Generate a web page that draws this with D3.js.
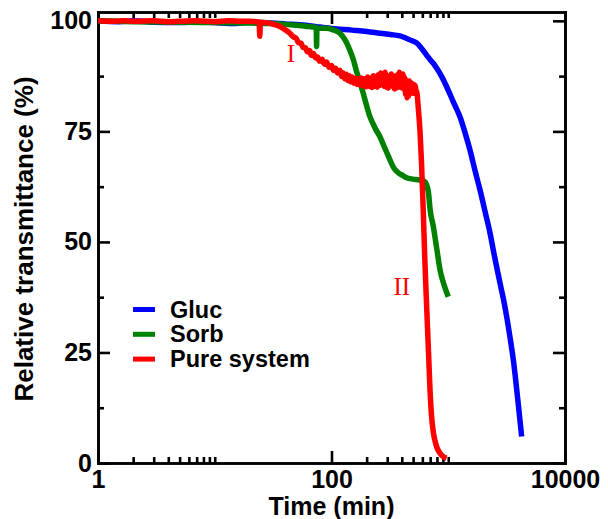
<!DOCTYPE html>
<html>
<head>
<meta charset="utf-8">
<title>Relative transmittance vs time</title>
<script src="https://cdn.jsdelivr.net/npm/d3@7"></script>
<style>
  body { margin: 0; background: #fff; }
  text { font-family: "Liberation Sans", Arial, sans-serif; font-weight: bold; fill: #000; }
  .axis path, .axis line { stroke: #000; stroke-width: 2.6; }
  .axis text { font-size: 25px; }
  .curve { fill: none; stroke-width: 5.5; stroke-linejoin: round; stroke-linecap: butt; }
  .note { font-family: "Liberation Serif", "Times New Roman", serif; font-weight: normal; font-size: 25px; fill: #f00; }
</style>
</head>
<body>
<script>
// series data: [time (min), relative transmittance (%)]
var gluc = [
  [1,100],[1.5,99.8],[2,100],[3,99.7],[5,99.6],[7,99.8],[10,99.6],[15,99.4],[20,99.7],
  [30,99.5],[40,99.3],[60,99.0],[80,98.6],[100,98.3],[150,97.9],[200,97.6],[260,97.2],
  [320,96.9],[386,96.6],[440,96.0],[490,95.5],[536,95.0],[590,93.8],[650,92.3],[700,91.2],
  [745,90.4],[800,89.2],[870,87.6],[969,85.1],[1100,81.8],[1260,78.3],[1400,74.5],
  [1535,70.8],[1700,66.0],[1870,61.8],[2070,56.8],[2280,52.0],[2500,46.5],[2775,40.7],
  [3000,36.5],[3165,33.1],[3400,28.0],[3610,23.3],[3900,15.5],[4255,6.0]
];
var sorb = [
  [1,100],[2,99.8],[5,99.7],[10,99.6],[20,99.5],[30,99.4],[40,99.2],[50,99.0],[60,98.8],
  [74,98.5],[74.5,94.2],[75,98.4],[90,98.3],[100,98.1],[110,97.7],[118,97.2],[126,96.3],
  [135,95.0],[144,93.3],[154,91.2],[161,89.3],[169,87.4],[178,85.5],[187,83.6],[200,80.8],
  [213,78.4],[225,76.9],[240,75.4],[260,73.8],[280,71.8],[300,70.0],[320,68.3],[337,67.0],
  [360,66.0],[380,65.5],[410,65.0],[440,64.5],[500,64.2],[573,64.0],[630,63.6],[675,61.4],
  [700,57.2],[745,53.5],[800,48.2],[850,43.7],[910,40.7],[1000,37.6]
];
var pure = [
  [1,100],[1.3,99.9],[1.7,100],[2,99.9],[3,100],[4,99.8],[5,99.9],[7,100],[10,99.8],
  [13,100],[17,99.9],[20,99.9],[24,99.7],[24.3,96.5],[24.6,99.7],[28,99.6],[32,99.2],
  [36,98.7],[40,98.0],[44,97.2],[47,96.4],[50,96.0],[52,95.1],[55,94.9],[57,94.0],
  [60,93.9],[62,93.0],[65,93.3],[67,92.2],[70,92.6],[73,91.6],[76,91.8],[79,90.9],
  [83,91.3],[87,90.2],[91,90.7],[95,89.5],[100,89.9],[104,88.8],[108,89.3],[113,88.2],
  [118,88.8],[122,87.4],[126,88.2],[130,86.9],[134,87.9],[138,86.5],[142,87.6],[146,86.2],
  [150,87.3],[155,85.9],[160,87.0],[165,85.6],[170,86.9],[175,85.5],[180,87.1],[186,85.3],
  [192,86.9],[198,85.1],[204,87.3],[210,85.2],[216,87.0],[222,84.9],[228,87.6],[234,85.2],
  [240,87.4],[246,85.0],[252,87.8],[258,85.4],[264,88.2],[270,85.6],[276,87.8],[282,85.2],
  [288,88.4],[294,85.0],[300,87.6],[306,84.8],[312,87.2],[318,85.4],[325,88.0],[332,85.2],
  [339,87.6],[346,84.6],[353,87.0],[360,84.8],[367,87.8],[374,85.4],[381,88.4],[388,85.0],
  [395,87.6],[402,84.8],[409,88.0],[416,85.2],[423,87.2],[430,83.4],[437,86.6],[444,82.6],
  [451,86.0],[458,83.0],[465,86.4],[472,83.6],[479,86.0],[486,84.0],[493,85.8],[500,83.6],
  [507,85.6],[514,84.0],[521,85.4],[529,84.2],[537,84.0],[555,80.0],[573,75.0],[590,68.0],
  [611,57.0],[630,46.0],[655,34.6],[680,24.0],[700,15.8],[720,10.5],[745,7.0],[770,5.0],
  [800,3.5],[850,2.2],[900,1.5],[968,1.1]
];
var seriesNames = ["Gluc", "Sorb", "Pure system"];
var seriesColors = ["#0000ff", "#008000", "#ff0000"];
var xMajor = [1, 100, 10000];
var xMinor = [2,3,4,5,6,7,8,9,10,200,300,400,500,600,700,800,900,1000];
var yMajor = [0, 25, 50, 75, 100];
var yMinor = [12.5, 37.5, 62.5, 87.5];

var width = 608, height = 519;
var plotLeft = 98, plotRight = 565, plotTop = 12, plotBottom = 463;

var x = d3.scaleLog().domain([1, 10000]).range([plotLeft, plotRight]);
var y = d3.scaleLinear().domain([0, 102]).range([plotBottom, plotTop]);

var svg = d3.select("body").append("svg")
    .attr("width", width)
    .attr("height", height);

// axes, ticks pointing inward
function addAxis(axis, tx, ty) {
  svg.append("g").attr("class", "axis")
      .attr("transform", "translate(" + tx + "," + ty + ")")
      .call(axis);
}
addAxis(d3.axisBottom(x).tickValues(xMajor).tickFormat(d3.format("d"))
    .tickSizeInner(-12).tickSizeOuter(0).tickPadding(7), 0, plotBottom);
addAxis(d3.axisBottom(x).tickValues(xMinor).tickFormat("")
    .tickSizeInner(-6).tickSizeOuter(0), 0, plotBottom);
addAxis(d3.axisTop(x).tickValues(xMajor).tickFormat("")
    .tickSizeInner(-12).tickSizeOuter(0), 0, plotTop);
addAxis(d3.axisTop(x).tickValues(xMinor).tickFormat("")
    .tickSizeInner(-6).tickSizeOuter(0), 0, plotTop);
addAxis(d3.axisLeft(y).tickValues(yMajor).tickFormat(d3.format("d"))
    .tickSizeInner(-12).tickSizeOuter(0).tickPadding(6), plotLeft, 0);
addAxis(d3.axisLeft(y).tickValues(yMinor).tickFormat("")
    .tickSizeInner(-6).tickSizeOuter(0), plotLeft, 0);
addAxis(d3.axisRight(y).tickValues(yMajor).tickFormat("")
    .tickSizeInner(-12).tickSizeOuter(0), plotRight, 0);
addAxis(d3.axisRight(y).tickValues(yMinor).tickFormat("")
    .tickSizeInner(-6).tickSizeOuter(0), plotRight, 0);

svg.selectAll(".axis .domain").attr("stroke-linecap", "square");

// curves
var line = d3.line()
    .curve(d3.curveMonotoneX)
    .x(function (d) { return x(d[0]); })
    .y(function (d) { return y(d[1]); });

var allSeries = [gluc, sorb, pure];
svg.append("g").selectAll("path")
    .data(allSeries)
    .enter().append("path")
    .attr("class", "curve")
    .attr("stroke", function (d, i) { return seriesColors[i]; })
    .attr("d", line);

// stage labels
svg.append("text").attr("class", "note")
    .attr("x", x(45)).attr("y", y(90.6)).attr("text-anchor", "middle").text("I");
svg.append("text").attr("class", "note")
    .attr("x", x(400)).attr("y", y(38)).attr("text-anchor", "middle").text("II");

// legend
var legend = svg.append("g").selectAll("g")
    .data(seriesNames)
    .enter().append("g")
    .attr("transform", function (d, i) { return "translate(133," + (309.5 + i * 24.8) + ")"; });
legend.append("line")
    .attr("x1", 0).attr("x2", 22).attr("y1", 0).attr("y2", 0)
    .attr("stroke", function (d, i) { return seriesColors[i]; })
    .attr("stroke-width", 5);
legend.append("text")
    .attr("x", 37).attr("y", 8)
    .style("font-size", "23.5px")
    .text(function (d) { return d; });

// axis titles
svg.append("text")
    .attr("x", (plotLeft + plotRight) / 2).attr("y", 515)
    .attr("text-anchor", "middle")
    .style("font-size", "25px")
    .text("Time (min)");
svg.append("text")
    .attr("transform", "translate(33,239)rotate(-90)")
    .attr("text-anchor", "middle")
    .style("font-size", "26px")
    .text("Relative transmittance (%)");
</script>
</body>
</html>
